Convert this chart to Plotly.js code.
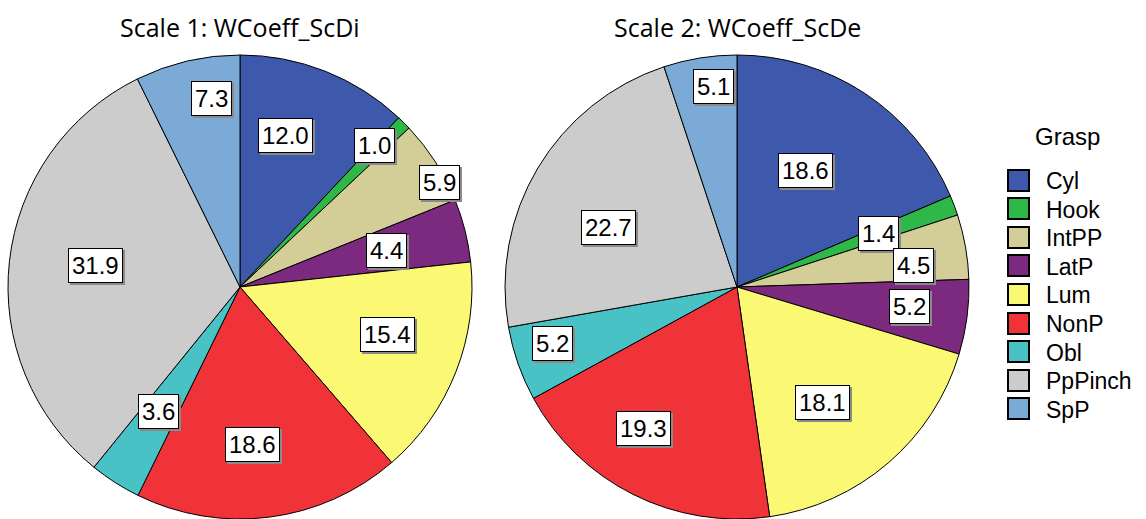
<!DOCTYPE html>
<html><head><meta charset="utf-8">
<script src="https://cdn.plot.ly/plotly-3.0.1.min.js"></script>
<style>html,body{margin:0;padding:0;background:#fff}#chart{width:1146px;height:519px}</style>
</head><body><div id="chart"></div>
<script>
const categories = ['Cyl','Hook','IntPP','LatP','Lum','NonP','Obl','PpPinch','SpP'];
const scale1 = [12.0, 1.0, 5.9, 4.4, 15.4, 18.6, 3.6, 31.9, 7.3];
const scale2 = [18.6, 1.4, 4.5, 5.2, 18.1, 19.3, 5.2, 22.7, 5.1];
const titles = ['Scale 1: WCoeff_ScDi', 'Scale 2: WCoeff_ScDe'];
const legendTitle = 'Grasp';
const colors = ['#3E58AC','#2EB848','#D3CE97','#7C2A7F','#FBF873','#EF3338','#48C2C5','#CCCCCC','#7AAAD5'];

// layout helpers: label radial placement (fraction of radius) and angular nudge (deg)
const labelR1 = [0.68,0.84,0.97,0.65,0.67,0.68,0.64,0.63,0.82];
const labelA1 = [-5,-1.5,5,0,-3.6,2.8,0.7,1.9,4.4];
const labelR2 = [0.58,0.65,0.765,0.75,0.62,0.73,0.83,0.61,0.87];
const labelA2 = [-3,0,3,-1,4,7,2.3,-6,2.4];

const W = 1146, H = 519, R = 232;
const centers = [[240, 287], [737, 287]];
function dom(c){ return {x:[(c[0]-R)/W,(c[0]+R)/W], y:[(H-c[1]-R)/H,(H-c[1]+R)/H]}; }

const traces = [scale1, scale2].map((vals, k) => ({
  type:'pie', labels:categories, values:vals, sort:false, direction:'clockwise', rotation:0,
  domain:dom(centers[k]), textinfo:'none', hoverinfo:'label+value',
  marker:{colors:colors, line:{color:'#000', width:1}}, showlegend:false
}));

const FONT = 'Liberation Sans, Arial, sans-serif';
const annotations = [];
[[scale1,labelR1,labelA1],[scale2,labelR2,labelA2]].forEach(([vals, lr, la], k) => {
  const tot = vals.reduce((a,b)=>a+b,0);
  let cum = 0;
  const [cx, cy] = centers[k];
  vals.forEach((v,i) => {
    const mid = (cum + v/2)/tot*2*Math.PI + la[i]*Math.PI/180; cum += v;
    const rr = R*lr[i];
    const px = cx + rr*Math.sin(mid), py = cy - rr*Math.cos(mid);
    annotations.push({xref:'paper', yref:'paper', x:(px+2)/W, y:1-(py+2)/H, showarrow:false,
      text:v.toFixed(1), font:{family:FONT, size:24, color:'rgba(0,0,0,0)'},
      bgcolor:'#8a8a8a', bordercolor:'#8a8a8a', borderwidth:1, borderpad:3, xanchor:'center', yanchor:'middle'});
    annotations.push({xref:'paper', yref:'paper', x:px/W, y:1-py/H, showarrow:false,
      text:v.toFixed(1), font:{family:FONT, size:24, color:'#000'},
      bgcolor:'#fff', bordercolor:'#000', borderwidth:1, borderpad:3, xanchor:'center', yanchor:'middle'});
  });
  annotations.push({xref:'paper', yref:'paper', x:cx/W, y:1-27/H, showarrow:false, text:titles[k],
    font:{family:'Open Sans', size:25, color:'#000'}, xanchor:'center', yanchor:'middle'});
});

// legend
annotations.push({xref:'paper', yref:'paper', x:1033/W, y:1-137/H, showarrow:false, text:legendTitle,
  font:{family:FONT, size:24, color:'#000'}, xanchor:'left', yanchor:'middle'});
categories.forEach((c,i) => {
  const y = 180 + i*28.6;
  annotations.push({xref:'paper', yref:'paper', x:1018/W, y:1-y/H, showarrow:false, text:' ',
    width:19, height:19, bgcolor:colors[i], bordercolor:'#000', borderwidth:2, borderpad:0,
    xanchor:'center', yanchor:'middle'});
  annotations.push({xref:'paper', yref:'paper', x:1044/W, y:1-(y+1)/H, showarrow:false, text:c,
    font:{family:FONT, size:23, color:'#000'}, xanchor:'left', yanchor:'middle'});
});

Plotly.newPlot('chart', traces, {
  width:W, height:H, margin:{l:0,r:0,t:0,b:0}, paper_bgcolor:'#fff', showlegend:false,
  annotations:annotations
}, {staticPlot:true});
</script></body></html>
